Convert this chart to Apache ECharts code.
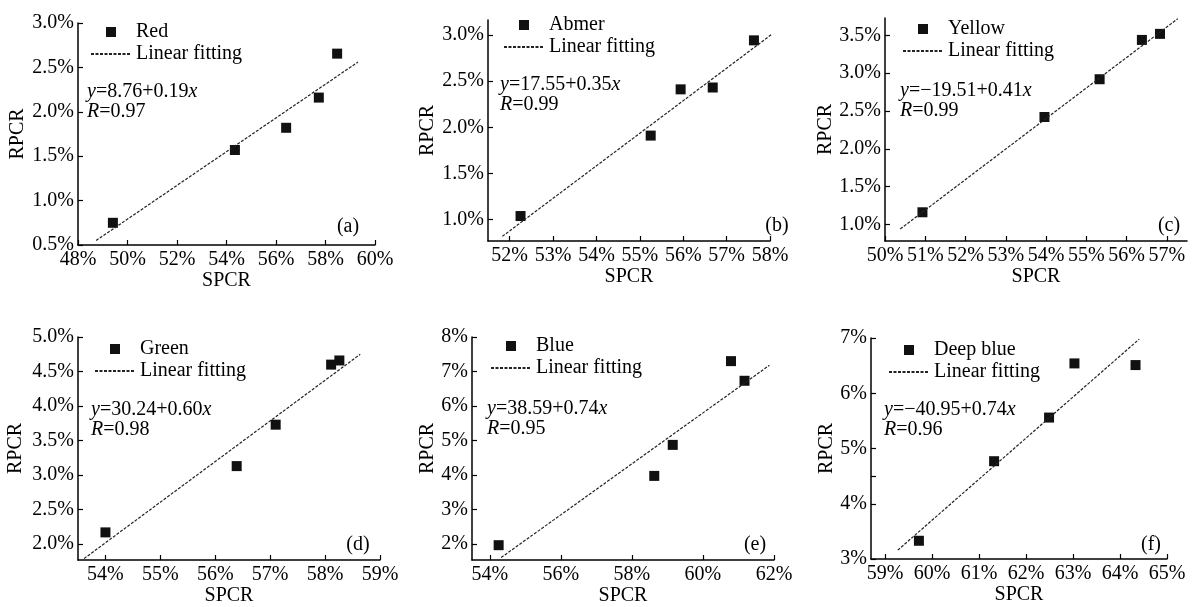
<!DOCTYPE html>
<html lang="en">
<head>
<meta charset="UTF-8">
<title>SPCR - RPCR</title>
<script src="https://cdn.jsdelivr.net/npm/echarts@6/dist/echarts.min.js"></script>
<style>body{margin:0;background:#fff;}</style>
</head>
<body>
<div id="main" style="width:1196px;height:607px;"></div>
<script>
// colour groups, one panel each
var groups = ['Red', 'Abmer', 'Yellow', 'Green', 'Blue', 'Deep blue'];
var tags = ['(a)', '(b)', '(c)', '(d)', '(e)', '(f)'];
var equations = ['{i|y}=8.76+0.19{i|x}', '{i|y}=17.55+0.35{i|x}', '{i|y}=\u221219.51+0.41{i|x}',
                 '{i|y}=30.24+0.60{i|x}', '{i|y}=38.59+0.74{i|x}', '{i|y}=\u221240.95+0.74{i|x}'];
var rValues = ['0.97', '0.99', '0.99', '0.98', '0.95', '0.96'];

// measured points (SPCR %, RPCR %)
var redSPCR = [49.41, 54.34, 56.41, 57.73, 58.47];
var redRPCR = [0.75, 1.57, 1.82, 2.16, 2.655];
var abmerSPCR = [52.25, 55.25, 55.94, 56.68, 57.63];
var abmerRPCR = [1.04, 1.91, 2.41, 2.43, 2.94];
var yellowSPCR = [50.93, 53.96, 55.33, 56.38, 56.83];
var yellowRPCR = [1.16, 2.42, 2.92, 3.44, 3.52];
var greenSPCR = [54.0, 56.39, 57.10, 58.11, 58.26];
var greenRPCR = [2.17, 3.13, 3.73, 4.60, 4.66];
var blueSPCR = [54.25, 58.63, 59.15, 60.79, 61.17];
var blueRPCR = [1.96, 3.97, 4.87, 7.30, 6.73];
var deepSPCR = [59.72, 61.32, 62.49, 63.03, 64.33];
var deepRPCR = [3.33, 4.77, 5.56, 6.54, 6.51];

// fitted line end points as drawn
var fitX = [[48.73, 59.31], [51.83, 58.14], [50.38, 57.27], [53.61, 58.64], [54.32, 61.87], [59.27, 64.41]];
var fitY = [[0.55, 2.56], [0.82, 3.04], [0.94, 3.72], [1.79, 4.75], [1.60, 7.18], [3.16, 6.98]];

// axis extents and tick values
var xMin = [48, 51.5, 50, 53.5, 53.5, 58.7];
var xMax = [60, 58, 57.5, 59, 62, 65];
var yMin = [0.5, 0.77, 0.78, 1.77, 1.53, 3];
var yMax = [3.0, 3.16, 3.73, 5.0, 8, 7];
var xTicks = [
  [48, 50, 52, 54, 56, 58, 60],
  [52, 53, 54, 55, 56, 57, 58],
  [50, 51, 52, 53, 54, 55, 56, 57],
  [54, 55, 56, 57, 58, 59],
  [54, 56, 58, 60, 62],
  [59, 60, 61, 62, 63, 64, 65]
];
var yTicks = [
  [0.5, 1.0, 1.5, 2.0, 2.5, 3.0],
  [1.0, 1.5, 2.0, 2.5, 3.0],
  [1.0, 1.5, 2.0, 2.5, 3.0, 3.5],
  [2.0, 2.5, 3.0, 3.5, 4.0, 4.5, 5.0],
  [2, 3, 4, 5, 6, 7, 8],
  [3, 4, 5, 6, 7]
];
var yTickMarks = [null, null, null, null, null, [3, 4, 4.5, 5, 6, 7]];
var yDecimals = [1, 1, 1, 1, 0, 0];

var spcrList = [redSPCR, abmerSPCR, yellowSPCR, greenSPCR, blueSPCR, deepSPCR];
var rpcrList = [redRPCR, abmerRPCR, yellowRPCR, greenRPCR, blueRPCR, deepRPCR];

// layout of the six panels (pixels)
var boxes = [
  {left: 78, top: 23, width: 297, height: 222},
  {left: 488, top: 20, width: 282, height: 221},
  {left: 885, top: 18, width: 302, height: 223},
  {left: 78, top: 337, width: 302, height: 223},
  {left: 472, top: 337, width: 302, height: 223},
  {left: 871, top: 338, width: 296, height: 221}
];
var yNameGap = [50, 50, 49, 52, 34, 33];
var legendPos = [[90, 22], [503, 15], [902, 19], [94, 339], [490, 336], [888, 340]];
var eqPos = [[87, 82], [500, 75], [900, 81], [91, 400], [487, 399], [884, 400]];
var tagPos = [[348, 227], [777, 226], [1169, 226], [358, 545], [755, 545], [1151, 545]];

var FONT = 'Liberation Serif';
var INK = '#000';
var myChart = echarts.init(document.getElementById('main'));

var grid = [], xAxis = [], yAxis = [], series = [], legend = [], graphic = [];
var squareIcon = 'path://M0 0H10V10H0Z';

for (var i = 0; i < 6; i++) {
  var b = boxes[i];
  grid.push({left: b.left, top: b.top, width: b.width, height: b.height});
  xAxis.push({
    gridIndex: i, type: 'value', min: xMin[i], max: xMax[i],
    name: 'SPCR', nameLocation: 'middle', nameGap: 18,
    nameTextStyle: {fontFamily: FONT, fontSize: 20, color: INK},
    axisLine: {lineStyle: {color: '#000', width: 1.5}},
    axisTick: {inside: true, length: 5, customValues: xTicks[i], lineStyle: {color: '#000', width: 1.2}},
    axisLabel: {customValues: xTicks[i], margin: 5, fontFamily: FONT, fontSize: 20, color: INK,
      formatter: function (v) { return Math.round(v) + '%'; }},
    splitLine: {show: false}
  });
  (function (d) {
    yAxis.push({
      gridIndex: i, type: 'value', min: yMin[i], max: yMax[i],
      name: 'RPCR', nameLocation: 'middle', nameGap: yNameGap[i], nameRotate: 90,
      nameTextStyle: {fontFamily: FONT, fontSize: 20, color: INK},
      axisLine: {lineStyle: {color: '#000', width: 1.5}},
      axisTick: {inside: true, length: 5, customValues: yTickMarks[i] || yTicks[i], lineStyle: {color: '#000', width: 1.2}},
      axisLabel: {customValues: yTicks[i], margin: 4, fontFamily: FONT, fontSize: 20, color: INK,
        formatter: function (v) { return v.toFixed(d) + '%'; }},
      splitLine: {show: false}
    });
  })(yDecimals[i]);

  var pts = spcrList[i].map(function (x, k) { return [x, rpcrList[i][k]]; });
  series.push({
    name: groups[i], type: 'scatter', xAxisIndex: i, yAxisIndex: i,
    symbol: 'rect', symbolSize: 10, itemStyle: {color: '#111', opacity: 1}, data: pts
  });
  series.push({
    name: 'Linear fitting', type: 'line', xAxisIndex: i, yAxisIndex: i,
    showSymbol: false, symbol: 'none', silent: true,
    itemStyle: {color: '#222'},
    lineStyle: {color: '#222', width: 1.2, type: [3, 1.5]},
    data: [[fitX[i][0], fitY[i][0]], [fitX[i][1], fitY[i][1]]]
  });

  legend.push({
    orient: 'vertical', left: legendPos[i][0], top: legendPos[i][1],
    itemWidth: 40, itemHeight: 10, itemGap: 2, padding: 0,
    textStyle: {fontFamily: FONT, fontSize: 20, color: INK, lineHeight: 20},
    data: [{name: groups[i], icon: squareIcon, itemStyle: {opacity: 1}},
           {name: 'Linear fitting', itemStyle: {opacity: 0, borderWidth: 0}}]
  });

  graphic.push({
    type: 'text', left: eqPos[i][0], top: eqPos[i][1],
    style: {
      text: equations[i] + '\n{i|R}=' + rValues[i],
      fontFamily: FONT, fontSize: 20, lineHeight: 20, fill: INK,
      rich: {i: {fontStyle: 'italic', fontFamily: FONT, fontSize: 20, lineHeight: 20}}
    }
  });
  graphic.push({
    type: 'text', x: tagPos[i][0], y: tagPos[i][1],
    style: {text: tags[i], fontFamily: FONT, fontSize: 20, fill: INK, align: 'center', verticalAlign: 'middle'}
  });
}

var option = {
  backgroundColor: '#fff',
  animation: false,
  grid: grid,
  xAxis: xAxis,
  yAxis: yAxis,
  legend: legend,
  series: series,
  graphic: graphic
};

myChart.setOption(option);
</script>
</body>
</html>
